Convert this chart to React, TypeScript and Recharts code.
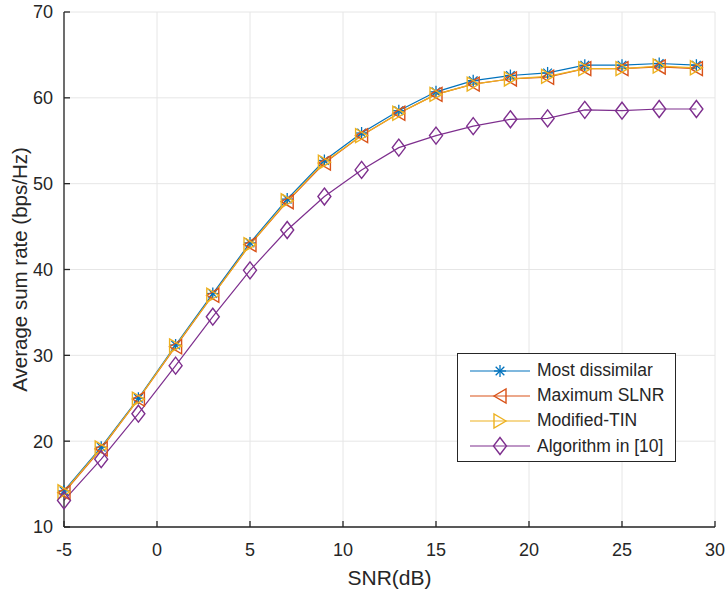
import React from 'react';
import {
  LineChart,
  Line,
  XAxis,
  YAxis,
  CartesianGrid,
  Legend,
} from 'recharts';

const snr = [-5, -3, -1, 1, 3, 5, 7, 9, 11, 13, 15, 17, 19, 21, 23, 25, 27, 29];
const mostDissimilar = [14.2, 19.3, 25.0, 31.2, 37.2, 43.1, 48.2, 52.7, 55.9, 58.5, 60.7, 62.0, 62.6, 62.9, 63.8, 63.8, 64.0, 63.8];
const maxSlnr = [14.0, 19.1, 24.9, 31.0, 37.0, 42.9, 47.9, 52.4, 55.6, 58.2, 60.4, 61.6, 62.2, 62.4, 63.4, 63.4, 63.6, 63.4];
const modifiedTin = [14.1, 19.2, 24.9, 31.1, 37.0, 42.9, 48.0, 52.5, 55.6, 58.2, 60.4, 61.6, 62.2, 62.5, 63.4, 63.4, 63.7, 63.5];
const algorithm10 = [13.1, 17.9, 23.2, 28.8, 34.5, 39.9, 44.6, 48.5, 51.6, 54.2, 55.6, 56.7, 57.5, 57.6, 58.6, 58.5, 58.7, 58.7];

const xTicks = [-5, 0, 5, 10, 15, 20, 25, 30];
const yTicks = [10, 20, 30, 40, 50, 60, 70];

const FONT = '"Liberation Sans", Arial, sans-serif';
const AXIS = '#262626';

const data = snr.map((x, i) => ({
  snr: x,
  md: mostDissimilar[i],
  slnr: maxSlnr[i],
  tin: modifiedTin[i],
  alg: algorithm10[i],
}));

type MarkerKind = 'star' | 'left' | 'right' | 'diamond';

function Marker({ kind, cx, cy, color }: { kind: MarkerKind; cx: number; cy: number; color: string }) {
  if (kind === 'star') {
    const r = 6;
    const d = r * 0.72;
    return (
      <g stroke={color} strokeWidth={1.3}>
        <line x1={cx - r} y1={cy} x2={cx + r} y2={cy} />
        <line x1={cx} y1={cy - r} x2={cx} y2={cy + r} />
        <line x1={cx - d} y1={cy - d} x2={cx + d} y2={cy + d} />
        <line x1={cx - d} y1={cy + d} x2={cx + d} y2={cy - d} />
      </g>
    );
  }
  if (kind === 'left') {
    const pts = `${cx - 6},${cy} ${cx + 6},${cy - 7} ${cx + 6},${cy + 7}`;
    return <polygon points={pts} fill="none" stroke={color} strokeWidth={1.4} />;
  }
  if (kind === 'right') {
    const pts = `${cx + 6},${cy} ${cx - 6},${cy - 7} ${cx - 6},${cy + 7}`;
    return <polygon points={pts} fill="none" stroke={color} strokeWidth={1.4} />;
  }
  const pts = `${cx},${cy - 8.5} ${cx + 6.5},${cy} ${cx},${cy + 8.5} ${cx - 6.5},${cy}`;
  return <polygon points={pts} fill="none" stroke={color} strokeWidth={1.4} />;
}

const SERIES: { key: string; name: string; color: string; kind: MarkerKind }[] = [
  { key: 'md', name: 'Most dissimilar', color: '#0072BD', kind: 'star' },
  { key: 'slnr', name: 'Maximum SLNR', color: '#D95319', kind: 'left' },
  { key: 'tin', name: 'Modified-TIN', color: '#EDB120', kind: 'right' },
  { key: 'alg', name: 'Algorithm in [10]', color: '#7E2F8E', kind: 'diamond' },
];

function YLabel(props: any) {
  const { viewBox } = props;
  const cx = viewBox.x + 19;
  const cy = viewBox.y + viewBox.height / 2;
  return (
    <text
      x={cx}
      y={cy}
      transform={`rotate(-90, ${cx}, ${cy})`}
      textAnchor="middle"
      dominantBaseline="central"
      fill={AXIS}
      fontSize={20.5}
      fontFamily={FONT}
    >
      Average sum rate (bps/Hz)
    </text>
  );
}

function LegendBox() {
  return (
    <div
      style={{
        border: `1px solid ${AXIS}`,
        background: '#fff',
        padding: '4px 0 4px 0',
        fontFamily: FONT,
        fontSize: 17.5,
        color: AXIS,
        boxSizing: 'border-box',
        width: 219,
        height: 109,
      }}
    >
      {SERIES.map((s) => (
        <div key={s.key} style={{ display: 'flex', alignItems: 'center', height: 25.2 }}>
          <svg width={60} height={22} style={{ marginLeft: 12, marginRight: 7 }}>
            <line x1={0} y1={11} x2={60} y2={11} stroke={s.color} strokeWidth={1.2} />
            <Marker kind={s.kind} cx={30} cy={11} color={s.color} />
          </svg>
          <span style={{ whiteSpace: 'nowrap' }}>{s.name}</span>
        </div>
      ))}
    </div>
  );
}

export default function App() {
  const tickStyle = { fill: AXIS, fontSize: 18, fontFamily: FONT };
  return (
    <div style={{ position: 'absolute', left: 0, top: 0, background: '#fff' }}>
      <LineChart
        width={728}
        height={595}
        data={data}
        margin={{ top: 12, right: 13, bottom: 0, left: 0 }}
      >
        <CartesianGrid stroke="#e6e6e6" strokeWidth={1} />
        <XAxis
          dataKey="snr"
          type="number"
          domain={[-5, 30]}
          ticks={xTicks}
          height={68}
          tick={tickStyle}
          tickSize={-6}
          tickMargin={22}
          stroke={AXIS}
          strokeWidth={1.3}
          label={{ value: 'SNR(dB)', position: 'insideBottom', offset: 10, fill: AXIS, fontSize: 21, fontFamily: FONT }}
        />
        <XAxis
          xAxisId="top"
          orientation="top"
          dataKey="snr"
          type="number"
          domain={[-5, 30]}
          ticks={xTicks}
          height={0}
          tick={false}
          tickSize={-6}
          stroke={AXIS}
          strokeWidth={1.3}
        />
        <YAxis
          type="number"
          domain={[10, 70]}
          ticks={yTicks}
          width={64}
          tick={tickStyle}
          tickSize={-6}
          tickMargin={17}
          stroke={AXIS}
          strokeWidth={1.3}
          label={<YLabel />}
        />
        <YAxis
          yAxisId="right"
          orientation="right"
          type="number"
          domain={[10, 70]}
          ticks={yTicks}
          width={0}
          tick={false}
          tickSize={-6}
          stroke={AXIS}
          strokeWidth={1.3}
        />
        {SERIES.map((s) => (
          <Line
            key={s.key}
            dataKey={s.key}
            name={s.name}
            stroke={s.color}
            strokeWidth={1.2}
            type="linear"
            isAnimationActive={false}
            dot={(p: any) => (
              <Marker key={`${s.key}-${p.index}`} kind={s.kind} cx={p.cx} cy={p.cy} color={s.color} />
            )}
            activeDot={false}
          />
        ))}
        <Legend
          layout="vertical"
          align="center"
          verticalAlign="middle"
          wrapperStyle={{ left: 457, top: 353, width: 219, height: 109 }}
          content={() => <LegendBox />}
        />
      </LineChart>
    </div>
  );
}
